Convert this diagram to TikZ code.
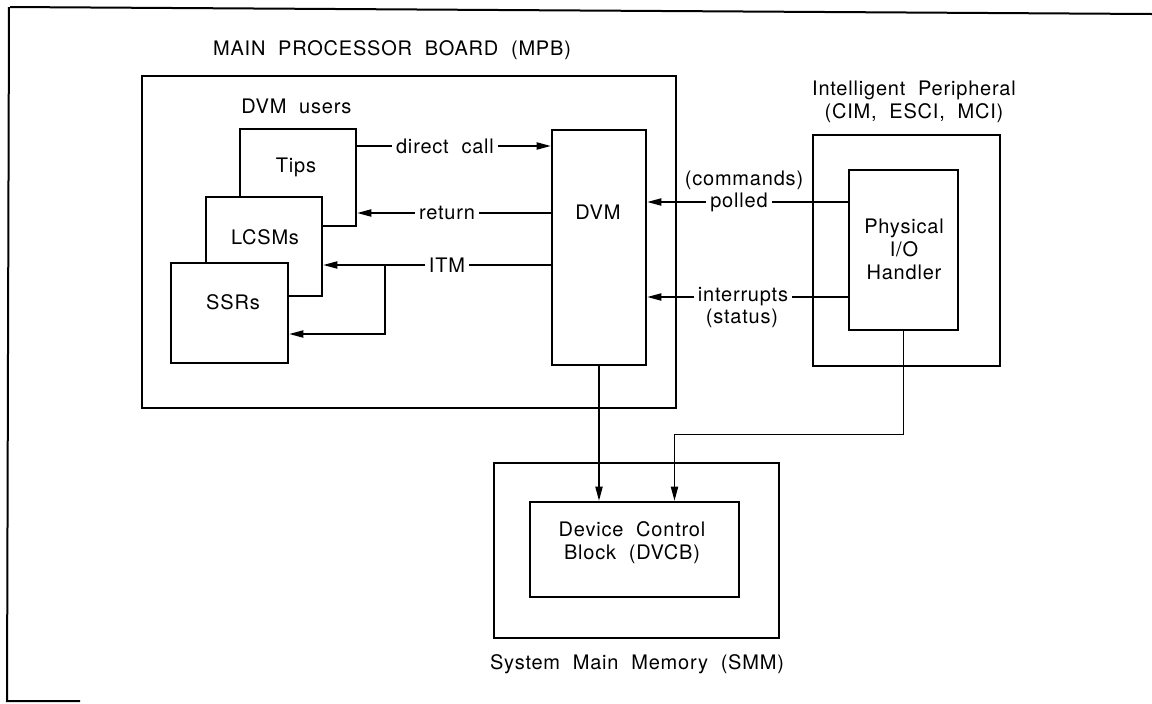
\documentclass[tikz,border=0pt]{standalone}
\usepackage{fontspec}
\setmainfont{TeX Gyre Heros}[LetterSpace=4,WordSpace=2]
\usetikzlibrary{arrows.meta}

\begin{document}
\begin{tikzpicture}[x=0.5pt,y=-0.5pt,
    font=\fontsize{10}{11.5}\selectfont,
    box/.style={draw, line width=1.3pt, fill=white, inner sep=0pt},
    lbl/.style={inner sep=2pt, align=center},
    link/.style={line width=0.7pt},
    >={Triangle[length=7pt,width=3.6pt]}]
    \useasboundingbox (0,0) rectangle (1152,703);

    % Page frame
    \draw[line width=1pt] (10,7) -- (1152,14);
    \draw[line width=1pt] (9,7) -- (7,701) -- (80,701);

    % Main processor board
    \node[lbl] (mpbtitle) at (392,50) {MAIN PROCESSOR BOARD (MPB)};
    \node[box, minimum width=267pt, minimum height=166pt] (mpb) at (409,242) {};
    \node[lbl, anchor=west] (users) at (237,106) {DVM users};
    \node[box, minimum width=58pt, minimum height=48.5pt] (tips) at (298,177.5) {};
    \node[lbl] (tipstext) at (296,167) {Tips};
    \node[box, minimum width=58pt, minimum height=49.5pt] (lcsm) at (264,246.5) {};
    \node[lbl] (lcsmtext) at (265,237) {LCSMs};
    \node[box, minimum width=58.5pt, minimum height=50pt] (ssr) at (229.5,313) {};
    \node[lbl] (ssrtext) at (233,302) {SSRs};
    \node[box, minimum width=47pt, minimum height=117.5pt] (dvm) at (599,247.5) {};
    \node[lbl] (dvmtext) at (598,212) {DVM};

    % Intelligent peripheral
    \node[lbl] (iptitle) at (914,102) {Intelligent Peripheral\\(CIM, ESCI, MCI)};
    \node[box, minimum width=93.5pt, minimum height=115.5pt] (ip) at (906.5,250.5) {};
    \node[box, minimum width=54.5pt, minimum height=80pt] (handler) at (903.5,250) {};
    \node[lbl] (handlertext) at (904,249) {Physical\\I/O\\Handler};

    % System main memory
    \node[box, minimum width=142.5pt, minimum height=87.5pt] (smm) at (636.5,550.5) {};
    \node[box, minimum width=104.5pt, minimum height=47.5pt] (dvcb) at (634.5,549.5) {};
    \node[lbl] (dvcbtext) at (632,543) {Device Control\\Block (DVCB)};
    \node[lbl] (smmtitle) at (637,664) {System Main Memory (SMM)};

    % Labels on the links
    \node[lbl] (dcall) at (445,146) {direct call};
    \node[lbl] (ret) at (447,213) {return};
    \node[lbl] (itm) at (447,265) {ITM};
    \node[lbl] (cmds) at (744,180) {(commands)};
    \node[lbl] (polled) at (739,202) {polled};
    \node[lbl] (intr) at (743,297) {interrupts};
    \node[lbl] (status) at (742,318) {(status)};

    % Links inside the board
    \draw[link] (tips.east |- dcall) -- (dcall.west);
    \draw[link,->] (dcall.east) -- (dvm.west |- dcall);
    \draw[link] (dvm.west |- ret) -- (ret.east);
    \draw[link,->] (ret.west) -- (tips.east |- ret);
    \draw[link] (dvm.west |- itm) -- (itm.east);
    \draw[link,->] (itm.west) -- (lcsm.east |- itm);
    \coordinate (itmsplit) at (385,0 |- itm);
    \draw[link,->] (itmsplit) |- (ssr.east |- 0,334);

    % Links to the peripheral
    \draw[link] (handler.west |- polled) -- (polled.east);
    \draw[link,->] (polled.west) -- (dvm.east |- polled);
    \draw[link] (handler.west |- intr) -- (intr.east);
    \draw[link,->] (intr.west) -- (dvm.east |- intr);

    % Links to the memory
    \draw[link,->] (dvm.south) -- (dvm.south |- dvcb.north);
    \coordinate (dvcbin) at ([xshift=20pt]dvcb.north);
    \draw[link,->] (handler.south) -- ++(0,103) -| (dvcbin);
\end{tikzpicture}
\end{document}
